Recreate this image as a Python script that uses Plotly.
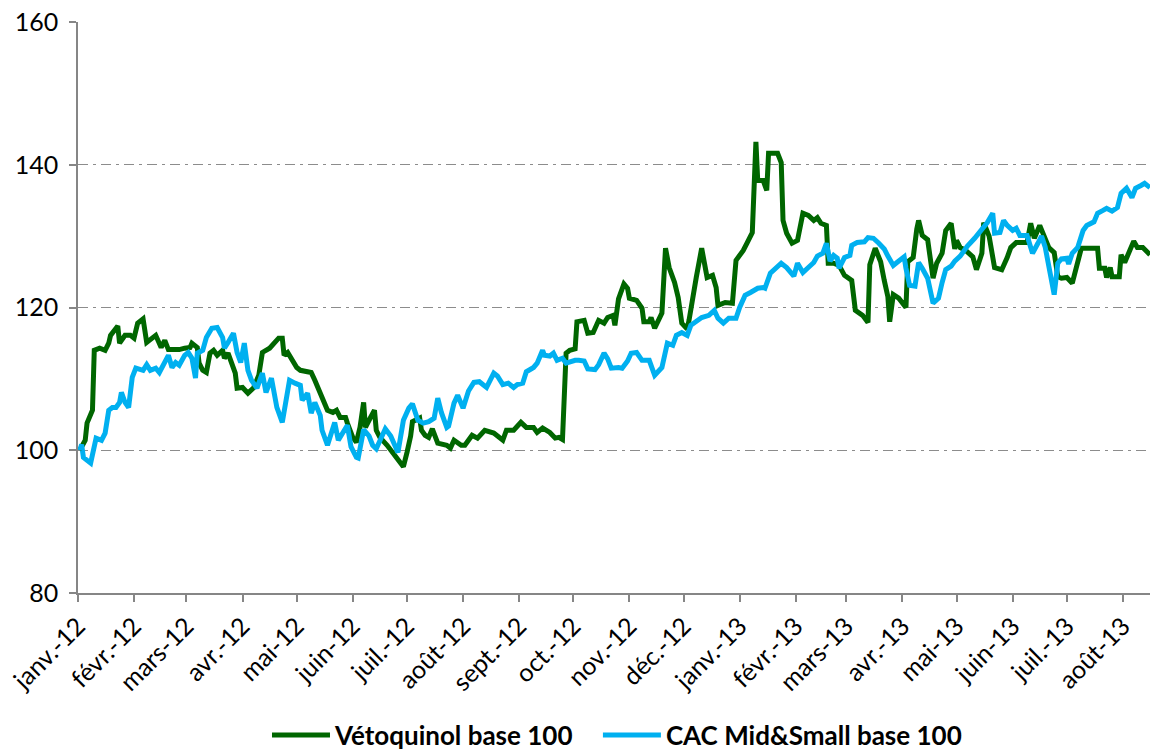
import plotly.graph_objects as go
import pandas as pd

# ---------------- data ----------------
veto_dates = [
    "2012-01-02","2012-01-05","2012-01-06","2012-01-09","2012-01-10","2012-01-13","2012-01-16","2012-01-18","2012-01-19","2012-01-23",
    "2012-01-24","2012-01-27","2012-01-30","2012-02-01","2012-02-03","2012-02-06","2012-02-08","2012-02-11","2012-02-13","2012-02-16",
    "2012-02-18","2012-02-20","2012-02-26","2012-02-29","2012-03-03","2012-03-04","2012-03-07","2012-03-08","2012-03-10","2012-03-12",
    "2012-03-14","2012-03-16","2012-03-18","2012-03-21","2012-03-22","2012-03-24","2012-03-26","2012-03-28","2012-03-29","2012-04-01",
    "2012-04-04","2012-04-07","2012-04-10","2012-04-11","2012-04-12","2012-04-16","2012-04-19","2012-04-21","2012-04-23","2012-04-24",
    "2012-04-26","2012-04-28","2012-05-01","2012-05-03","2012-05-09","2012-05-11","2012-05-14","2012-05-16","2012-05-18","2012-05-21",
    "2012-05-23","2012-05-25","2012-05-28","2012-05-29","2012-06-01","2012-06-03","2012-06-05","2012-06-07","2012-06-08","2012-06-10",
    "2012-06-13","2012-06-14","2012-06-16","2012-06-20","2012-06-23","2012-06-26","2012-06-29","2012-07-01","2012-07-03","2012-07-04",
    "2012-07-08","2012-07-09","2012-07-11","2012-07-13","2012-07-15","2012-07-18","2012-07-23","2012-07-25","2012-07-27","2012-07-31",
    "2012-08-02","2012-08-06","2012-08-09","2012-08-13","2012-08-18","2012-08-23","2012-08-25","2012-08-29","2012-09-02","2012-09-05",
    "2012-09-09","2012-09-11","2012-09-14","2012-09-18","2012-09-21","2012-09-23","2012-09-25","2012-09-27","2012-09-29","2012-10-02",
    "2012-10-03","2012-10-07","2012-10-09","2012-10-12","2012-10-15","2012-10-18","2012-10-20","2012-10-23","2012-10-24","2012-10-26",
    "2012-10-29","2012-10-31","2012-11-01","2012-11-05","2012-11-08","2012-11-09","2012-11-12","2012-11-13","2012-11-15","2012-11-19",
    "2012-11-21","2012-11-23","2012-11-26","2012-11-28","2012-11-30","2012-12-03","2012-12-04","2012-12-08","2012-12-11","2012-12-14",
    "2012-12-17","2012-12-19","2012-12-20","2012-12-24","2012-12-28","2012-12-30","2013-01-03","2013-01-05","2013-01-08","2013-01-10",
    "2013-01-11","2013-01-14","2013-01-16","2013-01-17","2013-01-22","2013-01-24","2013-01-25","2013-01-27","2013-01-30","2013-02-02",
    "2013-02-05","2013-02-08","2013-02-11","2013-02-13","2013-02-15","2013-02-18","2013-02-19","2013-02-22","2013-02-25","2013-02-28",
    "2013-03-04","2013-03-06","2013-03-10","2013-03-13","2013-03-14","2013-03-17","2013-03-20","2013-03-22","2013-03-24","2013-03-25",
    "2013-03-27","2013-03-30","2013-04-03","2013-04-04","2013-04-07","2013-04-09","2013-04-10","2013-04-12","2013-04-15","2013-04-18",
    "2013-04-20","2013-04-23","2013-04-25","2013-04-28","2013-04-30","2013-05-01","2013-05-03","2013-05-06","2013-05-10","2013-05-12",
    "2013-05-15","2013-05-16","2013-05-19","2013-05-22","2013-05-26","2013-05-29","2013-05-31","2013-06-03","2013-06-09","2013-06-11",
    "2013-06-13","2013-06-16","2013-06-19","2013-06-21","2013-06-24","2013-06-26","2013-06-28","2013-07-01","2013-07-04","2013-07-07",
    "2013-07-09","2013-07-18","2013-07-19","2013-07-22","2013-07-23","2013-07-25","2013-07-26","2013-07-30","2013-07-31","2013-08-02",
    "2013-08-05","2013-08-07","2013-08-09","2013-08-12","2013-08-16",
]
veto_values = [
    100.0,101.4,103.8,105.6,114.0,114.3,114.0,115.0,116.1,117.4,
    115.0,116.1,116.1,115.7,117.8,118.4,115.1,115.7,116.1,114.4,
    115.4,114.1,114.1,114.3,114.4,115.0,114.4,112.2,111.2,110.9,
    113.6,114.0,113.3,114.0,112.9,113.6,112.3,110.8,108.7,108.8,
    108.0,108.7,110.5,112.6,113.7,114.3,115.0,115.7,115.7,113.3,
    113.7,112.9,111.6,111.2,110.9,109.8,108.1,106.7,105.6,105.3,
    105.6,104.6,104.6,103.8,101.8,101.1,103.2,106.7,103.2,104.2,
    105.6,102.8,101.8,100.7,99.7,98.9,97.7,99.7,102.0,104.0,
    104.5,102.8,102.1,101.8,103.0,101.0,100.7,100.3,101.4,100.7,
    100.7,102.1,101.7,102.8,102.4,101.4,102.8,102.8,103.9,103.2,
    103.2,102.5,103.1,102.5,101.7,101.8,101.5,113.6,114.0,114.2,
    118.0,118.2,116.4,116.5,118.2,117.8,118.6,118.9,117.5,121.2,
    123.3,122.7,121.3,121.0,119.9,118.0,118.0,118.6,117.1,119.2,
    128.3,125.6,123.5,121.4,117.8,117.0,118.2,124.2,128.3,124.2,
    124.5,122.8,120.3,120.7,120.6,126.6,128.0,129.0,130.5,143.2,
    137.8,137.8,136.4,141.6,141.6,140.3,132.2,130.4,129.0,129.4,
    133.2,132.9,132.2,132.6,131.8,131.5,126.2,126.2,125.9,124.5,
    123.8,119.6,118.9,117.9,126.0,128.3,126.4,123.8,121.5,118.0,
    121.8,121.3,120.0,126.4,127.0,131.0,132.2,130.1,129.5,124.1,
    126.2,127.6,130.8,131.8,128.2,129.4,128.4,128.0,127.1,125.3,
    127.6,131.9,130.0,125.6,125.3,127.0,128.4,129.1,129.1,131.8,
    129.7,131.5,129.8,128.4,127.7,124.3,124.1,124.2,123.4,126.2,
    128.3,128.3,125.5,125.5,124.2,125.6,124.3,124.3,127.4,126.3,
    128.0,129.3,128.4,128.4,127.4,
]

cac_dates = [
    "2012-01-02","2012-01-03","2012-01-04","2012-01-08","2012-01-11","2012-01-14","2012-01-16","2012-01-18","2012-01-20","2012-01-22",
    "2012-01-24","2012-01-25","2012-01-27","2012-01-29","2012-01-31","2012-02-02","2012-02-06","2012-02-08","2012-02-10","2012-02-13",
    "2012-02-15","2012-02-18","2012-02-20","2012-02-22","2012-02-24","2012-02-26","2012-02-29","2012-03-02","2012-03-04","2012-03-06",
    "2012-03-07","2012-03-10","2012-03-12","2012-03-15","2012-03-18","2012-03-21","2012-03-22","2012-03-24","2012-03-27","2012-03-29",
    "2012-03-31","2012-04-02","2012-04-04","2012-04-06","2012-04-09","2012-04-12","2012-04-14","2012-04-17","2012-04-20","2012-04-23",
    "2012-04-25","2012-04-27","2012-04-30","2012-05-03","2012-05-04","2012-05-07","2012-05-09","2012-05-11","2012-05-14","2012-05-15",
    "2012-05-18","2012-05-20","2012-05-22","2012-05-24","2012-05-27","2012-05-29","2012-05-31","2012-06-03","2012-06-04","2012-06-07",
    "2012-06-10","2012-06-12","2012-06-14","2012-06-16","2012-06-19","2012-06-22","2012-06-24","2012-06-26","2012-06-29","2012-07-02",
    "2012-07-04","2012-07-06","2012-07-07","2012-07-10","2012-07-13","2012-07-16","2012-07-18","2012-07-20","2012-07-23","2012-07-24",
    "2012-07-27","2012-07-29","2012-08-01","2012-08-04","2012-08-07","2012-08-10","2012-08-14","2012-08-18","2012-08-20","2012-08-23",
    "2012-08-26","2012-08-29","2012-08-31","2012-09-03","2012-09-05","2012-09-09","2012-09-11","2012-09-14","2012-09-15","2012-09-18",
    "2012-09-20","2012-09-22","2012-09-25","2012-09-27","2012-09-29","2012-10-02","2012-10-04","2012-10-07","2012-10-09","2012-10-13",
    "2012-10-15","2012-10-18","2012-10-20","2012-10-22","2012-10-26","2012-10-28","2012-10-31","2012-11-02","2012-11-05","2012-11-08",
    "2012-11-12","2012-11-15","2012-11-19","2012-11-22","2012-11-25","2012-11-27","2012-11-30","2012-12-03","2012-12-05","2012-12-08",
    "2012-12-11","2012-12-15","2012-12-18","2012-12-20","2012-12-23","2012-12-26","2012-12-30","2013-01-01","2013-01-04","2013-01-07",
    "2013-01-11","2013-01-14","2013-01-15","2013-01-18","2013-01-21","2013-01-24","2013-01-27","2013-01-31","2013-02-02","2013-02-05",
    "2013-02-08","2013-02-11","2013-02-13","2013-02-16","2013-02-18","2013-02-20","2013-02-22","2013-02-24","2013-02-25","2013-02-28",
    "2013-03-03","2013-03-04","2013-03-07","2013-03-11","2013-03-13","2013-03-16","2013-03-19","2013-03-22","2013-03-24","2013-03-27",
    "2013-03-29","2013-03-31","2013-04-02","2013-04-03","2013-04-05","2013-04-08","2013-04-10","2013-04-12","2013-04-15","2013-04-18",
    "2013-04-21","2013-04-23","2013-04-25","2013-04-28","2013-04-30","2013-05-03","2013-05-07","2013-05-11","2013-05-14","2013-05-18",
    "2013-05-21","2013-05-22","2013-05-25","2013-05-27","2013-05-29","2013-06-01","2013-06-03","2013-06-05","2013-06-09","2013-06-12",
    "2013-06-15","2013-06-17","2013-06-19","2013-06-21","2013-06-24","2013-06-26","2013-06-28","2013-07-01","2013-07-02","2013-07-04",
    "2013-07-07","2013-07-10","2013-07-12","2013-07-16","2013-07-18","2013-07-21","2013-07-23","2013-07-26","2013-07-29","2013-07-31",
    "2013-08-03","2013-08-06","2013-08-08","2013-08-11","2013-08-13","2013-08-16",
]
cac_values = [
    100.0,100.8,99.0,98.2,101.7,101.4,102.4,105.6,106.0,106.0,
    106.7,108.1,106.7,106.0,110.2,111.5,111.2,112.0,111.2,111.5,
    110.9,112.3,113.3,111.6,112.3,111.9,113.3,113.7,112.9,110.1,
    113.6,114.0,115.8,117.1,117.2,115.8,114.3,115.1,116.4,113.7,
    112.3,115.0,111.2,109.8,108.7,110.8,108.1,110.1,106.0,103.9,
    107.0,109.8,109.4,109.1,107.0,108.0,105.2,106.7,104.9,102.8,
    100.7,102.4,103.9,101.4,102.8,103.5,100.5,99.0,98.9,102.9,
    102.0,100.7,100.2,101.2,103.0,102.0,100.7,99.7,104.2,105.9,
    106.5,104.5,104.2,103.8,104.0,104.5,107.3,105.3,103.2,103.4,
    106.6,107.7,105.9,108.3,109.5,109.6,108.8,110.8,110.4,109.2,
    109.4,108.8,109.2,109.4,111.0,111.6,112.2,114.0,113.3,113.2,
    113.6,112.6,112.9,112.2,112.4,112.6,112.6,112.5,111.4,111.3,
    112.0,113.6,112.8,111.5,111.6,111.5,112.5,113.6,113.7,112.6,
    112.6,110.5,111.6,115.0,114.7,116.1,116.5,116.1,117.5,118.0,
    118.6,118.9,119.6,118.5,117.8,118.5,118.5,120.0,121.7,122.1,
    122.7,122.8,122.7,124.8,125.5,126.2,125.6,124.4,126.2,124.9,
    125.6,126.3,127.2,127.6,129.0,126.5,127.3,126.9,125.5,127.0,
    127.3,128.7,129.1,129.2,129.8,129.7,129.0,128.2,127.2,125.9,
    126.3,126.8,127.1,125.5,123.1,123.0,126.3,125.5,124.1,120.6,
    121.3,123.5,125.3,125.8,126.5,127.2,128.6,129.7,130.6,131.9,
    133.2,130.4,130.5,132.2,131.5,130.8,131.1,130.1,130.1,127.6,
    129.0,130.0,128.5,125.5,121.8,126.2,126.8,126.9,126.1,127.6,
    128.4,130.8,131.5,132.0,133.2,133.6,133.9,133.5,134.0,136.0,
    136.7,135.4,136.7,137.1,137.4,136.8,
]

series_names = ["Vétoquinol base 100", "CAC Mid&Small base 100"]
series_colors = ["#006600", "#00B0F0"]

month_ticks = pd.date_range("2012-01-01", periods=20, freq="MS")
month_labels = ["janv.-12", "févr.-12", "mars-12", "avr.-12", "mai-12", "juin-12",
                "juil.-12", "août-12", "sept.-12", "oct.-12", "nov.-12", "déc.-12",
                "janv.-13", "févr.-13", "mars-13", "avr.-13", "mai-13", "juin-13",
                "juil.-13", "août-13"]

y_ticks = [80, 100, 120, 140, 160]

# ---------------- figure ----------------
FONT = "Lato, Carlito, Calibri, 'Open Sans', sans-serif"
LEGEND_FONT = dict(family=FONT, size=26, color="#000000", weight="bold")

fig = go.Figure()
for name, dates, vals, col, lg in [
    (series_names[0], veto_dates, veto_values, series_colors[0], "legend"),
    (series_names[1], cac_dates, cac_values, series_colors[1], "legend2"),
]:
    fig.add_trace(go.Scatter(
        x=pd.to_datetime(dates), y=vals, name=name, mode="lines",
        line=dict(color=col, width=5), hoverinfo="skip", legend=lg,
    ))

fig.update_layout(
    width=1151, height=750,
    margin=dict(l=78, r=1, t=22, b=157, autoexpand=False),
    paper_bgcolor="white", plot_bgcolor="white",
    font=dict(family=FONT, size=25, color="#000000"),
    showlegend=True,
    legend=dict(
        orientation="h", x=0.1763, xanchor="left", y=-0.249, yanchor="middle",
        font=LEGEND_FONT, itemwidth=58,
    ),
    legend2=dict(
        orientation="h", x=0.485, xanchor="left", y=-0.249, yanchor="middle",
        font=LEGEND_FONT, itemwidth=58,
    ),
)

fig.update_xaxes(
    type="date",
    range=["2012-01-01", "2013-08-16"],
    tickmode="array", tickvals=month_ticks, ticktext=month_labels,
    tickangle=-45,
    ticks="outside", ticklen=7, tickwidth=1.5, tickcolor="#868686",
    showline=True, linecolor="#868686", linewidth=1.5,
    showgrid=False, zeroline=False,
    ticklabeloverflow="allow",
    tickfont=dict(family=FONT, size=25, color="#000000"),
)
fig.update_yaxes(
    range=[80, 160], tickmode="array", tickvals=y_ticks,
    ticks="outside", ticklen=7, tickwidth=1.5, tickcolor="#868686",
    showline=True, linecolor="#868686", linewidth=1.5,
    showgrid=True, gridcolor="#8c8c8c", gridwidth=1.3,
    griddash="10px,5px,3px,5px",
    zeroline=False,
    ticklabeloverflow="allow",
    tickfont=dict(family=FONT, size=25, color="#000000"),
    ticklabelstandoff=6,
)

# remove the browser's default 8px body margin so the 1151x750 figure fills the window
fig.write_html("out.html", config={"displayModeBar": False},
               post_script="document.body.style.margin='0px';")
